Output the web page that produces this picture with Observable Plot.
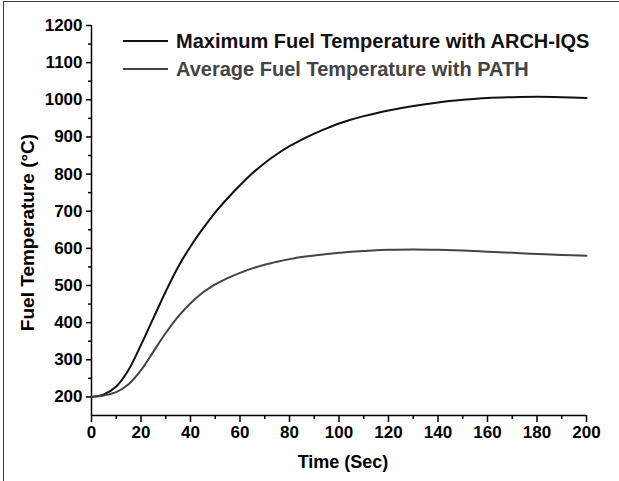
<!DOCTYPE html>
<html>
<head>
<meta charset="utf-8">
<script src="https://cdn.jsdelivr.net/npm/d3@7"></script>
<script src="https://cdn.jsdelivr.net/npm/@observablehq/plot@0.6"></script>
<style>
  body { margin: 0; background: #fff; }
  #wrap { position: relative; width: 619px; height: 481px; font-family: "Liberation Sans", Arial, sans-serif; }
  #border { position: absolute; left: 3px; top: 1px; right: 0; bottom: 0; border-left: 1.5px solid #3a3a3a; border-top: 1.5px solid #3a3a3a; pointer-events: none; }
  .legend { position: absolute; left: 123px; font-weight: bold; font-size: 20px; }
  .row { display: flex; align-items: center; height: 28px; }
  .swatch { width: 45px; height: 0; margin-right: 8px; }
</style>
</head>
<body>
<div id="wrap">
  <div id="chart"></div>
  <div id="border"></div>
  <div class="legend" id="legend" style="top:27px"></div>
</div>
<script>
// Time (s)
const time = [0, 5, 10, 15, 20, 25, 30, 35, 40, 45, 50, 55, 60, 65, 70, 75, 80, 85, 90, 95, 100, 105, 110, 115, 120, 130, 140, 150, 160, 170, 180, 190, 200];
// Maximum fuel temperature, ARCH-IQS (°C)
const maxTemp = [200, 207, 228, 273, 340, 412, 484, 550, 605, 653, 697, 735, 770, 802, 830, 854, 875, 893, 909, 923, 936, 947, 956, 964, 971, 983, 993, 1000, 1005, 1007, 1008, 1007, 1005];
// Average fuel temperature, PATH (°C)
const avgTemp = [200, 204, 213, 234, 272, 322, 372, 416, 452, 481, 503, 520, 534, 546, 556, 564, 571, 577, 581, 585, 588, 591, 593, 595, 596, 597, 596, 594, 591, 588, 585, 582, 580];

const seriesNames = ["Maximum Fuel Temperature with ARCH-IQS", "Average Fuel Temperature with PATH"];
const seriesColors = ["#111111", "#444444"];

const xMajor = [0, 20, 40, 60, 80, 100, 120, 140, 160, 180, 200];
const xMinor = [10, 30, 50, 70, 90, 110, 130, 150, 170, 190];
const yMajor = [200, 300, 400, 500, 600, 700, 800, 900, 1000, 1100, 1200];
const yMinor = [250, 350, 450, 550, 650, 750, 850, 950, 1050, 1150];

const rows = [];
time.forEach((t, i) => {
  rows.push({t, v: maxTemp[i], s: seriesNames[0]});
  rows.push({t, v: avgTemp[i], s: seriesNames[1]});
});

const font = {fontSize: 17, fontWeight: "bold", fill: "#000"};

const chart = Plot.plot({
  width: 619,
  height: 481,
  marginLeft: 91,
  marginRight: 33,
  marginTop: 25,
  marginBottom: 66,
  style: {fontFamily: "'Liberation Sans', Arial, sans-serif", background: "transparent", color: "#000", overflow: "visible"},
  x: {domain: [0, 200]},
  y: {domain: [150, 1200]},
  color: {domain: seriesNames, range: seriesColors},
  marks: [
    Plot.axisX({ticks: xMajor, tickSize: 7, tickPadding: 3, strokeWidth: 1.5, tickFormat: d => String(d), label: null, ...font}),
    Plot.axisX({ticks: xMinor, tickSize: 4, strokeWidth: 1.5, text: null, label: null}),
    Plot.axisY({ticks: yMajor, tickSize: 5, tickPadding: 4, strokeWidth: 1.5, tickFormat: d => String(d), label: null, ...font}),
    Plot.axisY({ticks: yMinor, tickSize: 3, strokeWidth: 1.5, text: null, label: null}),
    Plot.ruleY([150], {stroke: "#000", strokeWidth: 1.5}),
    Plot.ruleX([0], {stroke: "#000", strokeWidth: 1.5}),
    Plot.line(rows, {x: "t", y: "v", z: "s", stroke: "s", strokeWidth: 2, curve: "catmull-rom"}),
    Plot.text(["Time (Sec)"], {frameAnchor: "bottom", textAnchor: "middle", lineAnchor: "middle", dx: 4, dy: 47, fontSize: 18, fontWeight: "bold", fill: "#000"}),
    Plot.text(["Fuel Temperature (°C)"], {frameAnchor: "left", textAnchor: "middle", lineAnchor: "middle", rotate: -90, dx: -64, dy: 12, fontSize: 19, fontWeight: "bold", fill: "#000"})
  ]
});
document.getElementById("chart").appendChild(chart);

// Legend
const legend = document.getElementById("legend");
seriesNames.forEach((name, i) => {
  const row = document.createElement("div");
  row.className = "row";
  const sw = document.createElement("div");
  sw.className = "swatch";
  sw.style.borderTop = `2px solid ${seriesColors[i]}`;
  const label = document.createElement("span");
  label.textContent = name;
  label.style.color = seriesColors[i];
  row.appendChild(sw);
  row.appendChild(label);
  legend.appendChild(row);
});
</script>
</body>
</html>
